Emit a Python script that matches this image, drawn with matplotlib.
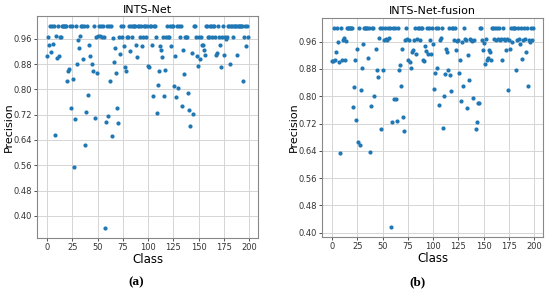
import matplotlib
matplotlib.use("Agg")
import matplotlib.pyplot as plt
import numpy as np

# class index 0..199 for both models
classes = np.arange(200)

# per-class precision, INTS-Net
prec_ints_net = [
    0.905, 0.966, 0.940, 1.0, 0.917, 1.0, 0.945, 1.0, 0.655, 0.968,
    0.899, 1.0, 0.905, 0.966, 0.965, 1.0, 1.0, 1.0, 1.0, 1.0,
    0.825, 0.857, 0.864, 1.0, 0.742, 1.0, 0.832, 0.554, 0.707, 1.0,
    0.880, 0.956, 0.930, 0.968, 1.0, 1.0, 0.896, 1.0, 0.623, 0.729,
    1.0, 0.782, 0.939, 0.907, 0.881, 0.857, 1.0, 0.709, 0.966, 0.853,
    0.968, 1.0, 0.969, 1.0, 0.967, 1.0, 0.966, 0.362, 0.698, 1.0,
    0.717, 1.0, 0.825, 1.0, 0.654, 0.962, 0.888, 0.930, 0.853, 0.740,
    0.695, 0.966, 0.911, 1.0, 0.966, 1.0, 0.937, 0.871, 0.857, 0.966,
    0.964, 1.0, 0.920, 1.0, 0.966, 1.0, 1.0, 1.0, 0.939, 0.903,
    1.0, 1.0, 0.966, 1.0, 0.937, 0.966, 1.0, 1.0, 0.965, 1.0,
    0.873, 0.870, 1.0, 1.0, 0.940, 0.779, 1.0, 1.0, 0.966, 0.726,
    0.815, 0.857, 0.937, 0.926, 0.903, 0.966, 0.779, 0.862, 0.966, 1.0,
    0.967, 0.966, 1.0, 0.937, 1.0, 1.0, 0.811, 0.905, 0.777, 1.0,
    0.804, 1.0, 0.966, 1.0, 0.749, 0.924, 0.848, 0.966, 0.964, 0.966,
    0.788, 0.734, 0.685, 0.915, 0.722, 1.0, 1.0, 0.966, 0.907, 0.875,
    0.966, 0.896, 0.964, 0.939, 0.939, 0.926, 0.909, 1.0, 1.0, 0.966,
    0.966, 1.0, 1.0, 0.967, 1.0, 1.0, 0.966, 0.909, 0.915, 1.0,
    0.966, 0.939, 0.871, 0.965, 1.0, 0.909, 0.966, 0.958, 0.966, 1.0,
    1.0, 0.880, 1.0, 1.0, 0.966, 1.0, 1.0, 1.0, 0.909, 1.0,
    1.0, 1.0, 1.0, 1.0, 0.828, 0.966, 1.0, 0.937, 1.0, 0.966,
]

# per-class precision, INTS-Net-fusion
prec_fusion = [
    0.902, 0.903, 1.0, 0.905, 0.929, 1.0, 0.958, 0.900, 0.635, 1.0,
    0.907, 0.964, 0.969, 0.905, 0.963, 1.0, 1.0, 1.0, 1.0, 1.0,
    1.0, 0.767, 0.826, 0.905, 0.730, 0.938, 0.666, 1.0, 0.656, 0.818,
    0.883, 0.952, 1.0, 1.0, 1.0, 1.0, 0.913, 1.0, 0.637, 0.771,
    1.0, 1.0, 0.800, 0.938, 0.876, 0.857, 0.969, 1.0, 0.703, 1.0,
    0.878, 0.966, 1.0, 0.968, 0.966, 1.0, 0.969, 1.0, 0.417, 0.724,
    1.0, 0.792, 1.0, 0.792, 0.726, 1.0, 0.878, 0.890, 0.831, 0.938,
    0.740, 0.697, 0.966, 1.0, 0.968, 0.907, 0.966, 0.900, 0.883, 0.930,
    0.936, 0.966, 1.0, 0.924, 0.968, 1.0, 1.0, 0.966, 1.0, 1.0,
    0.907, 0.903, 0.946, 0.933, 1.0, 0.925, 1.0, 0.964, 0.925, 1.0,
    0.952, 0.820, 0.868, 1.0, 0.882, 1.0, 0.773, 0.966, 0.969, 1.0,
    0.707, 0.800, 0.864, 0.938, 0.929, 0.876, 1.0, 0.863, 0.814, 1.0,
    1.0, 0.966, 1.0, 0.935, 0.962, 0.966, 0.868, 0.905, 0.785, 0.958,
    0.831, 1.0, 0.968, 0.966, 0.765, 0.921, 0.847, 0.968, 0.966, 0.963,
    0.794, 0.966, 0.705, 0.724, 0.779, 0.779, 1.0, 1.0, 0.966, 0.935,
    0.956, 0.894, 0.968, 0.905, 0.913, 0.935, 0.929, 0.905, 1.0, 1.0,
    0.968, 1.0, 0.966, 1.0, 0.968, 1.0, 0.966, 0.968, 0.905, 1.0,
    0.967, 0.966, 0.935, 0.968, 0.818, 0.966, 0.938, 1.0, 0.960, 1.0,
    1.0, 1.0, 0.878, 0.966, 1.0, 0.968, 0.954, 1.0, 0.909, 0.966,
    1.0, 0.968, 0.930, 1.0, 0.831, 0.964, 0.960, 1.0, 0.966, 1.0,
]

titles = ["INTS-Net", "INTS-Net-fusion"]
panel_tags = ["(a)", "(b)"]
yticks = [0.40, 0.48, 0.56, 0.64, 0.72, 0.80, 0.88, 0.96]
xticks = [0, 25, 50, 75, 100, 125, 150, 175, 200]

fig = plt.figure(figsize=(5.5, 2.94), dpi=100)

# axes boxes
boxes = [[0.0673, 0.1905, 0.402, 0.755], [0.5855, 0.194, 0.402, 0.745]]
# right edge of the rotated y label (pixels)
ylab_x = [14 / 550, 299 / 550]
tag_x = [136 / 550, 417 / 550]

for i, prec in enumerate([prec_ints_net, prec_fusion]):
    ax = fig.add_axes(boxes[i])
    ax.scatter(classes, prec, s=9, color="#1f77b4", zorder=3, linewidths=0)
    ax.set_yticks(yticks)
    ax.set_xticks(xticks)
    ax.set_yticklabels([f"{v:.2f}" for v in yticks])
    ax.tick_params(labelsize=6, length=2, width=0.6, pad=1.5, colors="#333333")
    ax.grid(True, color="#d5d5d5", linewidth=0.7, zorder=0)
    for sp in ax.spines.values():
        sp.set_color("#888888")
        sp.set_linewidth(0.8)
    ax.set_title(titles[i], fontsize=8, pad=2.5)
    ax.set_xlabel("Class", fontsize=8.5, labelpad=1)
    ax.set_ylabel("Precision", fontsize=8)
    ax.yaxis.set_label_coords(ylab_x[i], boxes[i][1] + boxes[i][3] / 2,
                              transform=fig.transFigure)
    fig.text(tag_x[i], 1 - 282 / 294, panel_tags[i], ha="center", va="center",
             fontsize=9.5, fontweight="bold", family="Liberation Serif")

fig.savefig("out.png", dpi=100)
